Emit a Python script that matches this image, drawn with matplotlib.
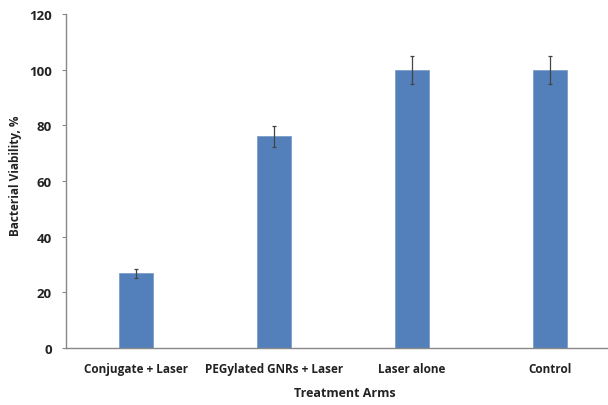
import matplotlib.pyplot as plt

categories = ["Conjugate + Laser", "PEGylated GNRs + Laser", "Laser alone", "Control"]
viability = [26.8, 76, 100, 100]
errors = [1.6, 3.8, 5, 5]

plt.rcParams['font.family'] = ['Open Sans', 'DejaVu Sans']
plt.rcParams['font.weight'] = 'bold'

fig = plt.figure(figsize=(6.08, 4.06), dpi=100)
ax = fig.add_axes([66 / 608, 1 - 349 / 406, 542 / 608, 334 / 406])

x = range(len(categories))
ax.bar(x, viability, width=0.25, color='#5380BA', edgecolor='#7d9dc9', linewidth=0.6,
       yerr=errors, error_kw=dict(ecolor='#444444', elinewidth=0.9, capsize=1.5, capthick=0.9))

ax.set_xlim(-0.507, 3.42)
ax.set_ylim(0, 120)
ax.set_yticks(range(0, 121, 20))
ax.set_xticks(list(x))
ax.set_xticklabels(categories, fontsize=8.5, fontweight='bold', color='#222222')
ax.tick_params(axis='x', length=0, pad=10)
ax.tick_params(axis='y', length=3, color='#888888', labelsize=9.5, labelcolor='#222222', pad=7)

for side in ('top', 'right'):
    ax.spines[side].set_visible(False)
for side in ('left', 'bottom'):
    ax.spines[side].set_color('#888888')
    ax.spines[side].set_linewidth(1.0)

ax.set_ylabel("Bacterial Viability, %", fontsize=8.5, fontweight='bold', color='#222222')
ax.yaxis.set_label_coords(-44 / 542, 0.52)
ax.set_xlabel("Treatment Arms", fontsize=9, fontweight='bold', color='#222222')
ax.xaxis.set_label_coords((345 - 66) / 542, -38 / 334)

fig.savefig("out.png", dpi=100)
